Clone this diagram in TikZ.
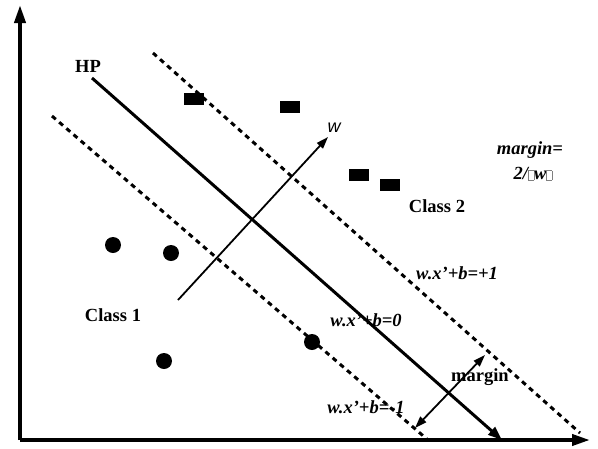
\documentclass[tikz,border=0pt]{standalone}
\usepackage{fontspec}
\setmainfont{Liberation Serif}
\newfontfamily\wsans{Liberation Sans}
\usetikzlibrary{arrows.meta}
\newcommand{\missbox}{\textcolor{gray}{\fboxsep0pt\fboxrule0.5pt\fbox{\rule{0pt}{9pt}\hspace{5pt}}}}
\begin{document}
\begin{tikzpicture}[x=1pt,y=-1pt,
  axis/.style={line width=3.8pt,-{Triangle[length=18pt,width=11pt]}},
  hpline/.style={line width=3pt,-{Triangle[length=14pt,width=10pt]}},
  margline/.style={line width=3pt,dash pattern=on 5pt off 4.5pt},
  thinarrow/.style={line width=1.8pt,-{Triangle[length=12pt,width=8pt]}},
  dblarrow/.style={line width=1.8pt,{Triangle[length=12pt,width=8pt]}-{Triangle[length=12pt,width=8pt]}},
  dot/.style={circle,fill=black,minimum size=16pt,inner sep=0pt},
  sq/.style={rectangle,fill=black,minimum width=20pt,minimum height=12pt,inner sep=0pt},
  lbl/.style={font=\fontsize{18.5}{20}\selectfont\bfseries,inner sep=0pt},
  ilbl/.style={font=\fontsize{18.5}{20}\selectfont\bfseries\itshape,inner sep=0pt}]
\useasboundingbox (0,0) rectangle (598,448);
% axes
\coordinate (O) at (20,440);
\coordinate (ytip) at (20,5);
\coordinate (xtip) at (590,440);
\draw[axis] (O) -- (ytip);
\draw[axis] (O) -- (xtip);
% lines
\coordinate (hpA) at (92,78);
\coordinate (hpB) at (502,440);
\coordinate (upA) at (153,53);
\coordinate (upB) at (580,433);
\coordinate (loA) at (52,116);
\coordinate (loB) at (428,440);
\draw[hpline] (hpA) -- (hpB);
\draw[margline] (upA) -- (upB);
\draw[margline] (loA) -- (loB);
% w vector
\coordinate (wA) at (178,300);
\coordinate (wB) at (328,137);
\draw[thinarrow] (wA) -- (wB);
% margin arrow
\coordinate (mA) at (415,428);
\coordinate (mB) at (485,355);
\draw[dblarrow] (mA) -- (mB);
% class 2 squares
\node[sq] (s1) at (194,99) {};
\node[sq] (s2) at (290,107) {};
\node[sq] (s3) at (359,175) {};
\node[sq] (s4) at (390,185) {};
% class 1 dots
\node[dot] (d1) at (113,245) {};
\node[dot] (d2) at (171,253) {};
\node[dot] (d3) at (312,342) {};
\node[dot] (d4) at (164,361) {};
% labels
\node[lbl] (hp) at (88,66) {HP};
\node[lbl] (c1) at (113,315) {Class 1};
\node[lbl] (c2) at (437,206) {Class 2};
\node[ilbl] (mg1) at (530,150) {margin=};
\node[ilbl] (mg2) at (533,174) {2/\missbox w\missbox};
\node[ilbl] (eq1) at (457,273) {w.x’+b=+1};
\node[ilbl] (eq0) at (366,320) {w.x’+b=0};
\node[ilbl] (eqm) at (366,407) {w.x’+b=-1};
\node[lbl] (mg) at (480,377) {margin};
\node[font=\wsans\itshape\fontsize{18}{20}\selectfont,inner sep=0pt] (wl) at (334,128) {w};
\end{tikzpicture}
\end{document}
